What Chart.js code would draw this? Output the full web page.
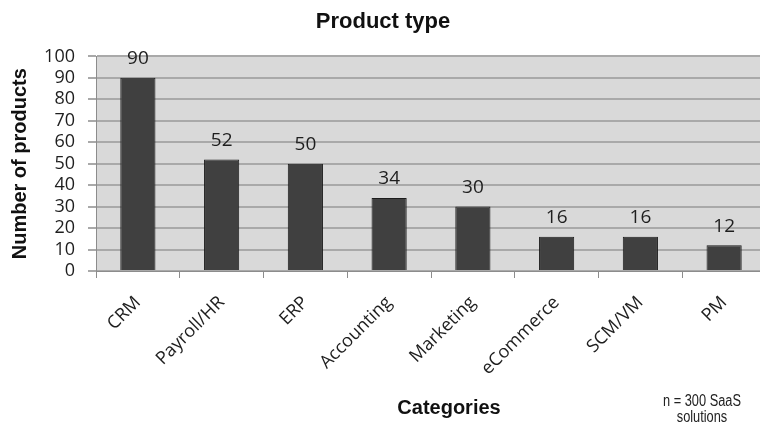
<!DOCTYPE html>
<html>
<head>
<meta charset="utf-8">
<script src="https://cdn.jsdelivr.net/npm/chart.js@4"></script>
<style>
	html, body { margin:0; padding:0; overflow:hidden; background:#fff; }
	#wrap { width:768px; height:422px; }
</style>
</head>
<body>
<div id="wrap"><canvas id="product_graph" width="768" height="422"></canvas></div>
<script>

const categories = ['CRM', 'Payroll/HR', 'ERP', 'Accounting', 'Marketing', 'eCommerce', 'SCM/VM', 'PM']
const products = [90, 52, 50, 34, 30, 16, 16, 12]
const yTicks = [0, 10, 20, 30, 40, 50, 60, 70, 80, 90, 100]

const labelFont = '"Open Sans", Lato, sans-serif'
const boldFont = '"Liberation Sans", Arial, sans-serif'

// grey plot background behind the bars
const plotBackground = {
	id:'plotBackground',
	beforeDraw(chart){
		const { ctx, chartArea } = chart
		ctx.save()
		ctx.fillStyle = '#d9d9d9'
		ctx.fillRect(chartArea.left, chartArea.top, chartArea.right - chartArea.left, chartArea.bottom - chartArea.top)
		ctx.restore()
	}
}

// value above each bar, axis caption and sample note
const annotations = {
	id:'annotations',
	afterDraw(chart){
		const { ctx } = chart
		const meta = chart.getDatasetMeta(0)
		ctx.save()
		ctx.fillStyle = '#1e1e1e'
		ctx.font = `19px ${labelFont}`
		ctx.textAlign = 'center'
		ctx.textBaseline = 'middle'
		meta.data.forEach((bar, i) => {
			ctx.fillText(String(products[i]), bar.x, bar.y - 19)
		})

		ctx.font = `bold 20px ${boldFont}`
		ctx.fillStyle = '#111'
		ctx.fillText('Categories', 449, 408)

		// narrow note in the corner
		ctx.font = `16px ${boldFont}`
		ctx.fillStyle = '#222'
		ctx.translate(702, 0)
		ctx.scale(0.8, 1)
		ctx.fillText('n = 300 SaaS', 0, 402)
		ctx.fillText('solutions', 0, 418)
		ctx.restore()
	}
}

const ctx = document.getElementById('product_graph')
new Chart(ctx, {
	type:'bar',
	data:{
		labels:categories,
		datasets:[
			{
				label:'Number of products',
				data:products,
				backgroundColor:'#404040',
				borderColor:'#1c1c1c',
				borderWidth:1,
				categoryPercentage:1,
				barPercentage:0.42
			}
		]
	},
	options:{
		responsive:false,
		animation:false,
		devicePixelRatio:1,
		layout:{ padding:{ left:0, right:2, top:0, bottom:0 } },
		plugins:{
			legend:{ display:false },
			tooltip:{ enabled:false },
			title:{
				display:true,
				text:'Product type',
				color:'#111',
				font:{ family:boldFont, size:22, weight:'bold' },
				padding:{ top:9, bottom:21 }
			}
		},
		scales:{
			x:{
				grid:{
					offset:true,
					drawOnChartArea:false,
					drawTicks:true,
					tickLength:7,
					color:'#8c8c8c',
					lineWidth:1
				},
				border:{ color:'#8c8c8c', width:1 },
				ticks:{
					color:'#1e1e1e',
					font:{ family:labelFont, size:18 },
					minRotation:45,
					maxRotation:45,
					padding:14
				},
				afterFit(scale){ scale.height = 151 }
			},
			y:{
				min:0,
				max:100,
				afterBuildTicks(scale){ scale.ticks = yTicks.map(v => ({ value:v })) },
				grid:{
					color:'#a9a9a9',
					lineWidth:2,
					drawTicks:true,
					tickLength:8
				},
				border:{ color:'#8c8c8c', width:1 },
				ticks:{
					autoSkip:false,
					color:'#1e1e1e',
					font:{ family:labelFont, size:18 },
					padding:13
				},
				title:{
					display:true,
					text:'Number of products',
					color:'#111',
					font:{ family:boldFont, size:20, weight:'bold' },
					padding:{ top:8, bottom:0 }
				},
				afterFit(scale){ scale.width = 96 }
			}
		}
	},
	plugins:[plotBackground, annotations]
})

</script>
</body>
</html>
